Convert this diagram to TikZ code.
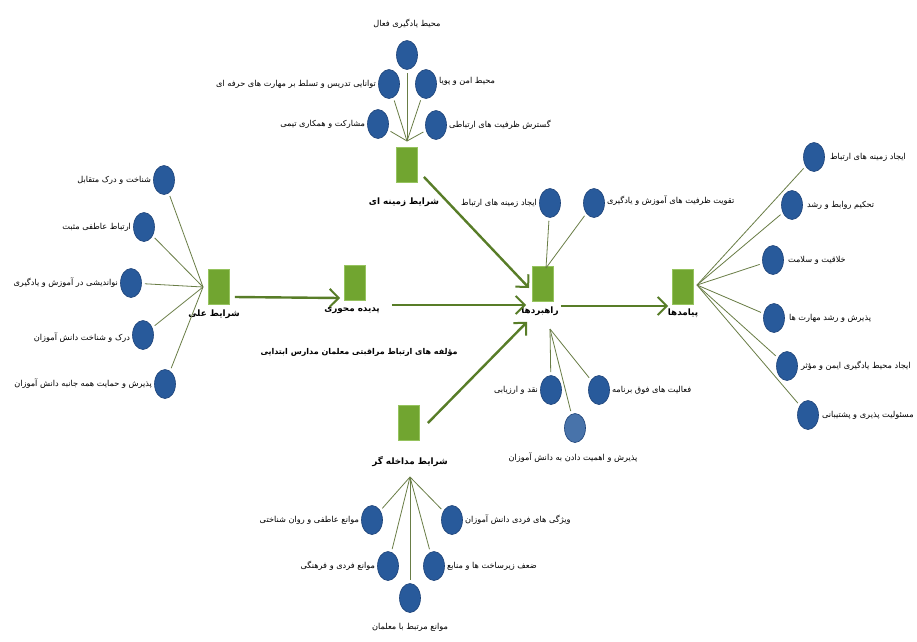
\documentclass[tikz,border=0pt]{standalone}
\usepackage{fontspec}
\usetikzlibrary{shapes.geometric,arrows.meta}
\newfontfamily\arabicfont[Script=Arabic]{DejaVu Sans}
\TeXXeTstate=1
\newcommand\fatxt[1]{{\arabicfont\beginR #1\endR}}
\definecolor{boxgreen}{RGB}{113,165,48}
\definecolor{boxedge}{RGB}{150,195,95}
\definecolor{dotblue}{RGB}{40,90,155}
\definecolor{dotedge}{RGB}{28,66,120}
\definecolor{linkgreen}{RGB}{105,125,70}
\definecolor{arrowgreen}{RGB}{88,125,40}
\tikzset{
  greenbox/.style={draw=boxedge, line width=0.8pt, fill=boxgreen, minimum width=21pt, minimum height=35pt, inner sep=0pt},
  dot/.style={ellipse, draw=dotedge, line width=0.6pt, fill=dotblue, minimum width=21pt, minimum height=29pt, inner sep=0pt},
  lbl/.style={inner sep=1pt, font=\fontsize{8.2}{10}\selectfont},
  mainlbl/.style={inner sep=1pt, font=\fontsize{8.8}{11}\selectfont\bfseries},
  link/.style={draw=linkgreen, line width=0.8pt, shorten >=3pt},
  flow/.style={draw=arrowgreen, line width=2.4pt, -{Straight Barb[length=9pt,width=18pt,line width=2pt]}}
}
\begin{document}
\begin{tikzpicture}[x=1pt,y=-1pt]
\useasboundingbox[fill=white] (0,0) rectangle (917,641);

% ---------- green boxes ----------
\node[greenbox] (ali) at (219,287) {};
\node[greenbox] (padide) at (355,283) {};
\node[greenbox] (zamine) at (407,165) {};
\node[greenbox] (rahbord) at (543,284) {};
\node[greenbox] (payamad) at (683,287) {};
\node[greenbox] (modakhele) at (409,423) {};

\node[mainlbl] (aliL) at (214,314) {\fatxt{شرایط علی}};
\node[mainlbl] (padideL) at (352,311) {\fatxt{پدیده محوری}};
\node[mainlbl] (zamineL) at (404,202) {\fatxt{شرایط زمینه ای}};
\node[mainlbl] (rahbordL) at (540,311) {\fatxt{راهبردها}};
\node[mainlbl] (payamadL) at (683,313) {\fatxt{پیامدها}};
\node[mainlbl] (modakheleL) at (410,462) {\fatxt{شرایط مداخله گر}};
\node[lbl, font=\fontsize{8}{10}\selectfont\bfseries] (core) at (359,352) {\fatxt{مؤلفه های ارتباط مراقبتی معلمان مدارس ابتدایی}};

% ---------- main arrows ----------
\draw[flow] ([xshift=5pt,yshift=-10pt]ali.east) -- ([xshift=-4pt,yshift=-15pt]padide.west);
\draw[flow] ([xshift=26pt,yshift=-22pt]padide.east) -- ([xshift=-6pt,yshift=-21pt]rahbord.west);
\draw[flow] ([xshift=6pt,yshift=6pt]zamine.south east) -- ([xshift=-3pt,yshift=-4pt]rahbord.west);
\draw[flow] ([xshift=8pt]modakhele.east) -- ([xshift=-5pt,yshift=-20pt]rahbord.south west);
\draw[flow] ([xshift=7pt,yshift=-22pt]rahbord.east) -- ([xshift=-4pt,yshift=-19pt]payamad.west);

% ---------- top cluster (contextual) ----------
\coordinate (hubT) at (407,141);
\node[dot] (t0) at (407,55) {};
\node[dot] (t1) at (389,84) {};
\node[dot] (t2) at (426,84) {};
\node[dot] (t3) at (378,124) {};
\node[dot] (t4) at (436,125) {};
\node[lbl, anchor=south] at ([yshift=11pt]t0.north) {\fatxt{محیط یادگیری فعال}};
\node[lbl, anchor=east] at ([xshift=-1pt]t1.west) {\fatxt{توانایی تدریس و تسلط بر مهارت های حرفه ای}};
\node[lbl, anchor=west] at ([xshift=1pt,yshift=3pt]t2.east) {\fatxt{محیط امن و پویا}};
\node[lbl, anchor=east] at ([xshift=-1pt]t3.west) {\fatxt{مشارکت و همکاری تیمی}};
\node[lbl, anchor=west] at ([xshift=1pt]t4.east) {\fatxt{گسترش ظرفیت های ارتباطی}};
\foreach \n in {t0,t1,t2,t3,t4} \draw[link] (hubT) -- (\n);

% ---------- left cluster (causal) ----------
\coordinate (hubL) at (203,287);
\node[dot] (l1) at (164,180) {};
\node[dot] (l2) at (144,227) {};
\node[dot] (l3) at (131,283) {};
\node[dot] (l4) at (143,335) {};
\node[dot] (l5) at (165,384) {};
\node[lbl, anchor=east] at ([xshift=-1pt]l1.west) {\fatxt{شناخت و درک متقابل}};
\node[lbl, anchor=east] at ([xshift=-1pt]l2.west) {\fatxt{ارتباط عاطفی مثبت}};
\node[lbl, anchor=east] at ([xshift=-1pt]l3.west) {\fatxt{نواندیشی در آموزش و یادگیری}};
\node[lbl, anchor=east] at ([xshift=-1pt,yshift=-3pt]l4.west) {\fatxt{درک و شناخت دانش آموزان}};
\node[lbl, anchor=east] at ([xshift=-1pt]l5.west) {\fatxt{پذیرش و حمایت همه جانبه دانش آموزان}};
\foreach \n in {l1,l2,l3,l4,l5} \draw[link] (hubL) -- (\n);

% ---------- strategies cluster ----------
\coordinate (hubS1) at (546,268);
\coordinate (hubS2) at (550,329);
\node[dot] (s1) at (550,203) {};
\node[dot] (s2) at (594,203) {};
\node[dot] (s3) at (551,390) {};
\node[dot] (s4) at (599,390) {};
\node[dot, fill=dotblue!85!white] (s5) at (575,428) {};
\node[lbl, anchor=east] at ([xshift=-1pt]s1.west) {\fatxt{ایجاد زمینه های ارتباط}};
\node[lbl, anchor=west] at ([xshift=1pt,yshift=2pt]s2.east) {\fatxt{تقویت ظرفیت های آموزش و یادگیری}};
\node[lbl, anchor=east] at ([xshift=-1pt]s3.west) {\fatxt{نقد و ارزیابی}};
\node[lbl, anchor=west] at ([xshift=1pt]s4.east) {\fatxt{فعالیت های فوق برنامه}};
\node[lbl, anchor=north] at ([xshift=-2pt,yshift=-9pt]s5.south) {\fatxt{پذیرش و اهمیت دادن به دانش آموزان}};
\foreach \n in {s1,s2} \draw[link] (hubS1) -- (\n);
\foreach \n in {s3,s4,s5} \draw[link] (hubS2) -- (\n);

% ---------- right cluster (outcomes) ----------
\coordinate (hubR) at (697,285);
\node[dot] (r1) at (814,157) {};
\node[dot] (r2) at (792,205) {};
\node[dot] (r3) at (773,260) {};
\node[dot] (r4) at (774,318) {};
\node[dot] (r5) at (787,366) {};
\node[dot] (r6) at (808,415) {};
\node[lbl, anchor=west] at ([xshift=4pt]r1.east) {\fatxt{ایجاد زمینه های ارتباط}};
\node[lbl, anchor=west] at ([xshift=3pt]r2.east) {\fatxt{تحکیم روابط و رشد}};
\node[lbl, anchor=west] at ([xshift=3pt]r3.east) {\fatxt{خلاقیت و سلامت}};
\node[lbl, anchor=west] at ([xshift=3pt]r4.east) {\fatxt{پذیرش و رشد مهارت ها}};
\node[lbl, anchor=west] at ([xshift=2pt]r5.east) {\fatxt{ایجاد محیط یادگیری ایمن و مؤثر}};
\node[lbl, anchor=west] at ([xshift=2pt]r6.east) {\fatxt{مسئولیت پذیری و پشتیبانی}};
\foreach \n in {r1,r2,r3,r4,r5,r6} \draw[link] (hubR) -- (\n);

% ---------- bottom cluster (intervening) ----------
\coordinate (hubB) at (410,477);
\node[dot] (b1) at (372,520) {};
\node[dot] (b2) at (452,520) {};
\node[dot] (b3) at (388,566) {};
\node[dot] (b4) at (434,566) {};
\node[dot] (b5) at (410,598) {};
\node[lbl, anchor=east] at ([xshift=-1pt]b1.west) {\fatxt{موانع عاطفی و روان شناختی}};
\node[lbl, anchor=west] at ([xshift=1pt]b2.east) {\fatxt{ویژگی های فردی دانش آموزان}};
\node[lbl, anchor=east] at ([xshift=-1pt]b3.west) {\fatxt{موانع فردی و فرهنگی}};
\node[lbl, anchor=west] at ([xshift=1pt]b4.east) {\fatxt{ضعف زیرساخت ها و منابع}};
\node[lbl, anchor=north] at ([yshift=-9pt]b5.south) {\fatxt{موانع مرتبط با معلمان}};
\foreach \n in {b1,b2,b3,b4,b5} \draw[link] (hubB) -- (\n);
\end{tikzpicture}
\end{document}
